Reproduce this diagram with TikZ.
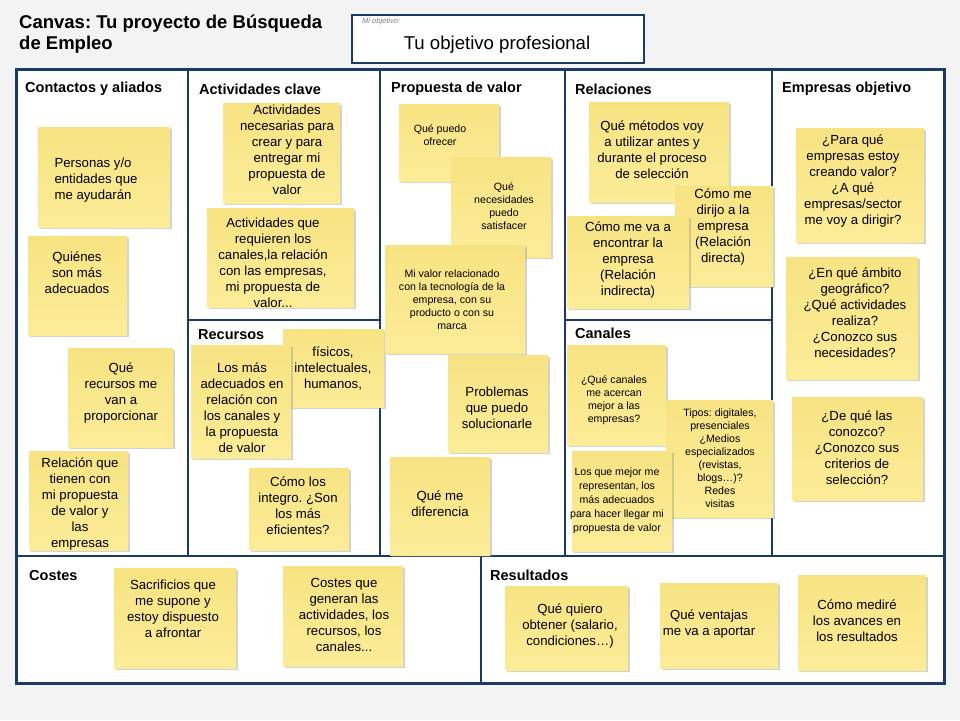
\documentclass[tikz,border=0pt]{standalone}
\usepackage{fontspec}
\setmainfont{Liberation Sans}
\usetikzlibrary{shadows}
\definecolor{canvasblue}{RGB}{28,58,102}
\definecolor{paper}{RGB}{243,243,243}
\definecolor{postit}{RGB}{252,236,152}
\definecolor{postittop}{RGB}{247,227,130}
\frenchspacing

\begin{document}
\begin{tikzpicture}[x=1pt,y=-1pt,
  postit/.style={top color=postittop,bottom color=postit,drop shadow={shadow xshift=1.5pt,shadow yshift=-1.5pt,opacity=0.35}},
  notetext/.style={align=center,font=\fontsize{13.2}{16}\selectfont,inner sep=0pt},
  smalltext/.style={align=center,font=\fontsize{10.6}{13}\selectfont,inner sep=0pt},
  heading/.style={anchor=west,font=\bfseries\fontsize{14.5}{16}\selectfont,inner sep=0pt},
  divider/.style={draw=canvasblue,line width=1.8pt}]
  \useasboundingbox (0,0) rectangle (960,720);
  \fill[paper] (0,0) rectangle (960,720);

  \node[anchor=west,align=left,inner sep=0pt,font=\bfseries\fontsize{18.5}{21}\selectfont] (title) at (19,34.5) {Canvas: Tu proyecto de Búsqueda\\de Empleo};
  \draw[canvasblue,line width=1.2pt,fill=white] (352,15) rectangle (644,63);
  \node[anchor=west,inner sep=0pt,text=gray,font=\itshape\fontsize{7.5}{9}\selectfont] (goallabel) at (362,22) {Mi objetivo:};
  \node[inner sep=0pt,font=\fontsize{18.6}{22}\selectfont] (goal) at (497,45) {Tu objetivo profesional};

  \draw[canvasblue,line width=3pt,fill=white] (16,69) rectangle (944,683);
  \draw[divider] (188,69)--(188,556);
  \draw[divider] (380,69)--(380,556);
  \draw[divider] (565,69)--(565,556);
  \draw[divider] (772,69)--(772,556);
  \draw[divider] (16,556)--(944,556);
  \draw[divider] (188,320)--(380,320);
  \draw[divider] (565,320)--(772,320);
  \draw[divider] (481,556)--(481,683);

  \node[heading] (contactos) at (25,89) {Contactos y aliados};
  \node[heading] (actividades) at (199,89) {Actividades clave};
  \node[heading] (propuesta) at (391,89) {Propuesta de valor};
  \node[heading] (relaciones) at (575,89) {Relaciones};
  \node[heading] (empresas) at (782,89) {Empresas objetivo};
  \node[heading] (recursos) at (198,335) {Recursos};
  \node[heading] (canales) at (575,333) {Canales};
  \node[heading] (costes) at (29,575) {Costes};
  \node[heading] (resultados) at (490,575) {Resultados};

  \begin{scope}
    \path[postit] (38,127) rectangle (170,227);
    \node[notetext,align=left] (personas) at (96,180) {Personas y/o\\entidades que\\me ayudarán};
    \path[postit] (28,236) rectangle (127,335);
    \node[notetext] (quienes) at (77,273) {Quiénes\\son más\\adecuados};
    \path[postit] (68,348) rectangle (173,447);
    \node[notetext] (querecursos) at (121,393) {Qué\\recursos me\\van a\\proporcionar};
    \path[postit] (29,451) rectangle (128,550);
    \node[notetext] (relacionque) at (80,504) {Relación que\\tienen con\\mi propuesta\\de valor y\\las\\empresas};
  \end{scope}

  \begin{scope}
    \path[postit] (223,103) rectangle (340,203);
    \node[notetext] (necesarias) at (287,150) {Actividades\\necesarias para\\crear y para\\entregar mi\\propuesta de\\valor};
    \path[postit] (207,208) rectangle (354,307);
    \node[notetext] (requieren) at (273,263) {Actividades que\\requieren los\\canales,la relación\\con las empresas,\\mi propuesta de\\valor...};
    \path[postit] (283,329) rectangle (384,407);
    \node[notetext] (fisicos) at (333,368) {físicos,\\intelectuales,\\humanos,};
    \path[postit] (191,345) rectangle (291,458);
    \node[notetext] (losmas) at (242,408) {Los más\\adecuados en\\relación con\\los canales y\\la propuesta\\de valor};
    \path[postit] (249,468) rectangle (349,550);
    \node[notetext] (integro) at (298,506) {Cómo los\\integro. ¿Son\\los más\\eficientes?};
  \end{scope}

  \begin{scope}
    \path[postit] (399,104) rectangle (499,181);
    \node[smalltext] (ofrecer) at (440,135) {Qué puedo\\ofrecer};
    \path[postit] (451,157) rectangle (551,257);
    \node[smalltext] (satisfacer) at (504,206) {Qué\\necesidades\\puedo\\satisfacer};
    \path[postit] (385,245) rectangle (525,353);
    \node[smalltext] (mivalor) at (452,300) {Mi valor relacionado\\con la tecnología de la\\empresa, con su\\producto o con su\\marca};
    \path[postit] (448,355) rectangle (548,452);
    \node[notetext] (problemas) at (497,408) {Problemas\\que puedo\\solucionarle};
    \path[postit] (390,457) rectangle (490,555);
    \node[notetext] (diferencia) at (440,504) {Qué me\\diferencia};
  \end{scope}

  \begin{scope}
    \path[postit] (589,102) rectangle (729,202);
    \node[notetext] (metodos) at (652,150) {Qué métodos voy\\a utilizar antes y\\durante el proceso\\de selección};
    \path[postit] (675,186) rectangle (773,286);
    \node[notetext] (directa) at (723,227) {Cómo me\\dirijo a la\\empresa\\(Relación\\directa)};
    \path[postit] (567,216) rectangle (689,308);
    \node[notetext] (indirecta) at (628,260) {Cómo me va a\\encontrar la\\empresa\\(Relación\\indirecta)};
    \path[postit] (567,345) rectangle (666,445);
    \node[smalltext] (quecanales) at (614,400) {¿Qué canales\\me acercan\\mejor a las\\empresas?};
    \path[postit] (666,400) rectangle (773,517);
    \node[smalltext] (tipos) at (720,458) {Tipos: digitales,\\presenciales\\¿Medios\\especializados\\(revistas,\\blogs…)?\\Redes\\visitas};
    \path[postit] (572,451) rectangle (672,551);
    \node[smalltext,font=\fontsize{10.6}{14}\selectfont] (representan) at (617,501) {Los que mejor me\\representan, los\\más adecuados\\para hacer llegar mi\\propuesta de valor};
  \end{scope}

  \begin{scope}
    \path[postit] (796,128) rectangle (924,242);
    \node[notetext] (paraque) at (853,181) {¿Para qué\\empresas estoy\\creando valor?\\¿A qué\\empresas/sector\\me voy a dirigir?};
    \path[postit] (786,257) rectangle (918,379);
    \node[notetext] (ambito) at (855,313) {¿En qué ámbito\\geográfico?\\¿Qué actividades\\realiza?\\¿Conozco sus\\necesidades?};
    \path[postit] (792,397) rectangle (923,500);
    \node[notetext] (conozco) at (857,448) {¿De qué las\\conozco?\\¿Conozco sus\\criterios de\\selección?};
  \end{scope}

  \begin{scope}
    \path[postit] (114,568) rectangle (236,668);
    \node[notetext] (sacrificios) at (173,609) {Sacrificios que\\me supone y\\estoy dispuesto\\a afrontar};
    \path[postit] (283,566) rectangle (403,666);
    \node[notetext] (costesque) at (344,615) {Costes que\\generan las\\actividades, los\\recursos, los\\canales...};
    \path[postit] (505,586) rectangle (628,670);
    \node[notetext] (obtener) at (570,626) {Qué quiero\\obtener (salario,\\condiciones…)};
    \path[postit] (660,583) rectangle (778,668);
    \node[notetext] (ventajas) at (709,624) {Qué ventajas\\me va a aportar};
    \path[postit] (798,575) rectangle (926,670);
    \node[notetext] (medire) at (857,621) {Cómo mediré\\los avances en\\los resultados};
  \end{scope}
\end{tikzpicture}
\end{document}
